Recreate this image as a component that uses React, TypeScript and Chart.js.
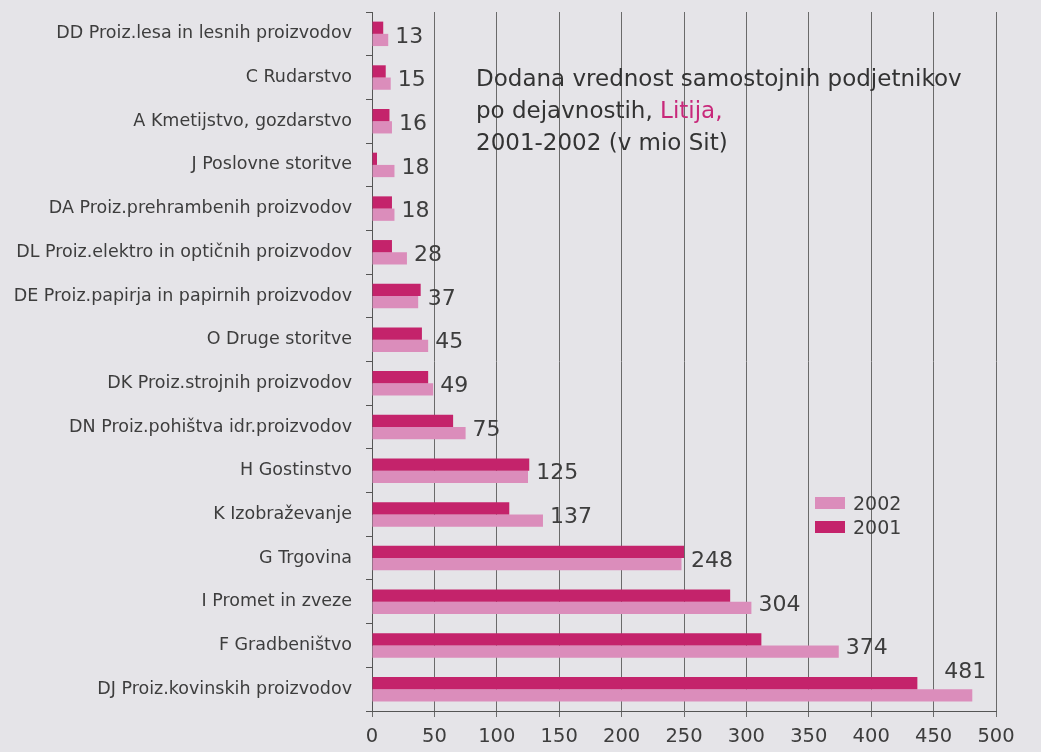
import React, { useEffect, useRef } from "react";
import { Chart, registerables } from "chart.js";

Chart.register(...registerables);

const categories = [
  "DD Proiz.lesa in lesnih proizvodov",
  "C Rudarstvo",
  "A Kmetijstvo, gozdarstvo",
  "J Poslovne storitve",
  "DA Proiz.prehrambenih proizvodov",
  "DL Proiz.elektro in optičnih proizvodov",
  "DE Proiz.papirja in papirnih proizvodov",
  "O Druge storitve",
  "DK Proiz.strojnih proizvodov",
  "DN Proiz.pohištva idr.proizvodov",
  "H Gostinstvo",
  "K Izobraževanje",
  "G Trgovina",
  "I Promet in zveze",
  "F Gradbeništvo",
  "DJ Proiz.kovinskih proizvodov",
];

const values2001 = [9, 11, 14, 4, 16, 16, 39, 40, 45, 65, 126, 110, 250, 287, 312, 437];
const values2002 = [13, 15, 16, 18, 18, 28, 37, 45, 49, 75, 125, 137, 248, 304, 374, 481];

const xTicks = [0, 50, 100, 150, 200, 250, 300, 350, 400, 450, 500];

const seriesNames = ["2001", "2002"];
const DARK = "#c4236b";
const PINK = "#db8dbb";
const BG = "#e5e4e8";
const TEXT = "#3d3d3d";
const FONT = "'DejaVu Sans', 'Liberation Sans', Arial, sans-serif";

const valueLabelPlugin = {
  id: "valueLabels",
  afterDatasetsDraw(chart: any) {
    const ctx = chart.ctx;
    const m0 = chart.getDatasetMeta(0);
    const m1 = chart.getDatasetMeta(1);
    const area = chart.chartArea;
    ctx.save();
    ctx.font = `22px ${FONT}`;
    ctx.fillStyle = TEXT;
    ctx.textBaseline = "middle";
    ctx.textAlign = "left";
    values2002.forEach((v, i) => {
      const e0 = m0.data[i];
      const e1 = m1.data[i];
      const text = String(v);
      const w = ctx.measureText(text).width;
      const end = Math.max(e0.x, e1.x);
      let x = end + 7;
      let y = (e0.y + e1.y) / 2 + 3;
      if (x + w > area.right - 4) {
        x = e1.x - w + 14;
        y = e0.y - e0.height / 2 - 5;
      }
      ctx.fillText(text, x, y);
    });
    ctx.restore();
  },
};

export default function App() {
  const ref = useRef<HTMLCanvasElement>(null);

  useEffect(() => {
    document.body.style.margin = "0";
    const chart = new Chart(ref.current!, {
      type: "bar",
      data: {
        labels: categories,
        datasets: [
          {
            label: seriesNames[0],
            data: values2001,
            backgroundColor: DARK,
            categoryPercentage: 0.56,
            barPercentage: 1,
          },
          {
            label: seriesNames[1],
            data: values2002,
            backgroundColor: PINK,
            categoryPercentage: 0.56,
            barPercentage: 1,
          },
        ],
      },
      options: {
        indexAxis: "y",
        animation: false,
        responsive: true,
        maintainAspectRatio: false,
        layout: { padding: { top: 12, right: 45, bottom: 0, left: 0 } },
        plugins: {
          legend: { display: false },
          tooltip: { enabled: false },
          title: { display: false },
        },
        scales: {
          x: {
            type: "linear",
            min: 0,
            max: 500,
            afterFit: (s: any) => {
              s.height = 41;
              s.paddingLeft = 0;
              s.paddingRight = 0;
            },
            afterBuildTicks: (s: any) => {
              s.ticks = xTicks.map((v) => ({ value: v }));
            },
            ticks: {
              color: TEXT,
              font: { size: 19.5, family: FONT },
              padding: 8,
            },
            grid: {
              color: "#6a6a6a",
              lineWidth: 1,
              tickLength: 6,
            },
            border: { display: true, color: "#555", width: 1 },
          },
          y: {
            type: "category",
            afterFit: (s: any) => {
              s.width = 372;
              s.paddingTop = 0;
              s.paddingBottom = 0;
            },
            ticks: {
              color: TEXT,
              font: { size: 17.5, family: FONT },
              padding: 14,
            },
            grid: {
              drawOnChartArea: false,
              drawTicks: true,
              tickLength: 6,
              offset: true,
              color: "#555",
            },
            border: { display: true, color: "#555", width: 1 },
          },
        },
      },
      plugins: [valueLabelPlugin],
    });
    return () => chart.destroy();
  }, []);

  return (
    <div
      style={{
        position: "absolute",
        left: 0,
        top: 0,
        width: 1041,
        height: 752,
        background: BG,
        fontFamily: FONT,
      }}
    >
      <canvas ref={ref} />
      <div
        style={{
          position: "absolute",
          left: 476,
          top: 62,
          fontSize: 23,
          lineHeight: "32px",
          color: "#333",
          whiteSpace: "nowrap",
        }}
      >
        Dodana vrednost samostojnih podjetnikov
        <br />
        po dejavnostih, <span style={{ color: "#c8287a" }}>Litija,</span>
        <br />
        2001-2002 (v mio Sit)
      </div>
      <div
        style={{
          position: "absolute",
          left: 815,
          top: 491,
          fontSize: 19,
          lineHeight: "24px",
          color: TEXT,
        }}
      >
        {[
          { name: seriesNames[1], color: PINK },
          { name: seriesNames[0], color: DARK },
        ].map((item) => (
          <div key={item.name} style={{ display: "flex", alignItems: "center", height: 24 }}>
            <span
              style={{
                display: "inline-block",
                width: 30,
                height: 12,
                background: item.color,
                marginRight: 8,
              }}
            />
            {item.name}
          </div>
        ))}
      </div>
    </div>
  );
}
